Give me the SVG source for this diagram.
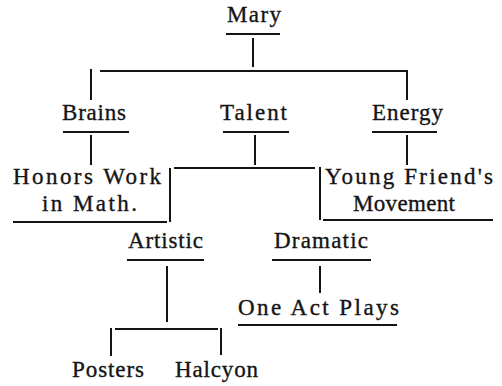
<svg xmlns="http://www.w3.org/2000/svg" width="502" height="386" viewBox="0 0 502 386">
  <style>
    .lbl { font-family: "Liberation Serif", "Times New Roman", serif; font-size: 23px; fill: #141414; stroke: #141414; stroke-width: 0.35; }
    .rule { stroke: #141414; stroke-width: 2; fill: none; }
    .link { stroke: #141414; stroke-width: 2; fill: none; }
  </style>
  <rect width="502" height="386" fill="#ffffff"/>

  <!-- tree connectors -->
  <g id="connectors">
    <!-- Mary to first tier -->
    <line class="link" x1="253" y1="38" x2="253" y2="67"/>
    <line class="link" x1="100" y1="71" x2="406" y2="71"/>
    <line class="link" x1="91" y1="69" x2="91" y2="100"/>
    <line class="link" x1="407" y1="70" x2="407" y2="100"/>
    <!-- first tier to second tier -->
    <line class="link" x1="91" y1="135" x2="91" y2="165"/>
    <line class="link" x1="255" y1="135" x2="255" y2="165"/>
    <line class="link" x1="407" y1="135" x2="407" y2="165"/>
    <!-- Talent split -->
    <line class="link" x1="174" y1="168" x2="315" y2="168"/>
    <line class="link" x1="170" y1="168" x2="170" y2="222"/>
    <line class="link" x1="320" y1="167" x2="320" y2="220"/>
    <!-- Artistic / Dramatic children -->
    <line class="link" x1="167" y1="266" x2="167" y2="322"/>
    <line class="link" x1="320" y1="266" x2="320" y2="293"/>
    <line class="link" x1="115" y1="329" x2="218" y2="329"/>
    <line class="link" x1="111" y1="328" x2="111" y2="356"/>
    <line class="link" x1="221" y1="328" x2="221" y2="355"/>
  </g>

  <g id="mary">
    <text class="lbl" x="227" y="22" textLength="54" lengthAdjust="spacing">Mary</text>
    <line class="rule" x1="226" y1="34" x2="280" y2="34"/>
  </g>

  <g id="brains">
    <text class="lbl" x="62" y="120" textLength="64" lengthAdjust="spacing">Brains</text>
    <line class="rule" x1="63" y1="132" x2="129" y2="132"/>
  </g>

  <g id="talent">
    <text class="lbl" x="220" y="120" textLength="67" lengthAdjust="spacing">Talent</text>
    <line class="rule" x1="223" y1="132" x2="289" y2="132"/>
  </g>

  <g id="energy">
    <text class="lbl" x="372" y="120" textLength="71" lengthAdjust="spacing">Energy</text>
    <line class="rule" x1="372" y1="132" x2="437" y2="132"/>
  </g>

  <g id="honors-work">
    <text class="lbl" x="13" y="184" textLength="148" lengthAdjust="spacing">Honors Work</text>
    <text class="lbl" x="42" y="211" textLength="95" lengthAdjust="spacing">in Math.</text>
    <line class="rule" x1="13" y1="222" x2="167" y2="222"/>
  </g>

  <g id="young-friends">
    <text class="lbl" x="325" y="184" textLength="168" lengthAdjust="spacing">Young Friend's</text>
    <text class="lbl" x="353" y="211" textLength="102" lengthAdjust="spacing">Movement</text>
    <line class="rule" x1="323" y1="220" x2="493" y2="220"/>
  </g>

  <g id="artistic">
    <text class="lbl" x="128" y="248" textLength="75" lengthAdjust="spacing">Artistic</text>
    <line class="rule" x1="127" y1="260" x2="204" y2="260"/>
  </g>

  <g id="dramatic">
    <text class="lbl" x="274" y="248" textLength="94" lengthAdjust="spacing">Dramatic</text>
    <line class="rule" x1="272" y1="260" x2="371" y2="260"/>
  </g>

  <g id="one-act-plays">
    <text class="lbl" x="238" y="315" textLength="161" lengthAdjust="spacing">One Act Plays</text>
    <line class="rule" x1="238" y1="325" x2="397" y2="325"/>
  </g>

  <g id="posters">
    <text class="lbl" x="72" y="377" textLength="72" lengthAdjust="spacing">Posters</text>
  </g>

  <g id="halcyon">
    <text class="lbl" x="175" y="377" textLength="83" lengthAdjust="spacing">Halcyon</text>
  </g>
</svg>
